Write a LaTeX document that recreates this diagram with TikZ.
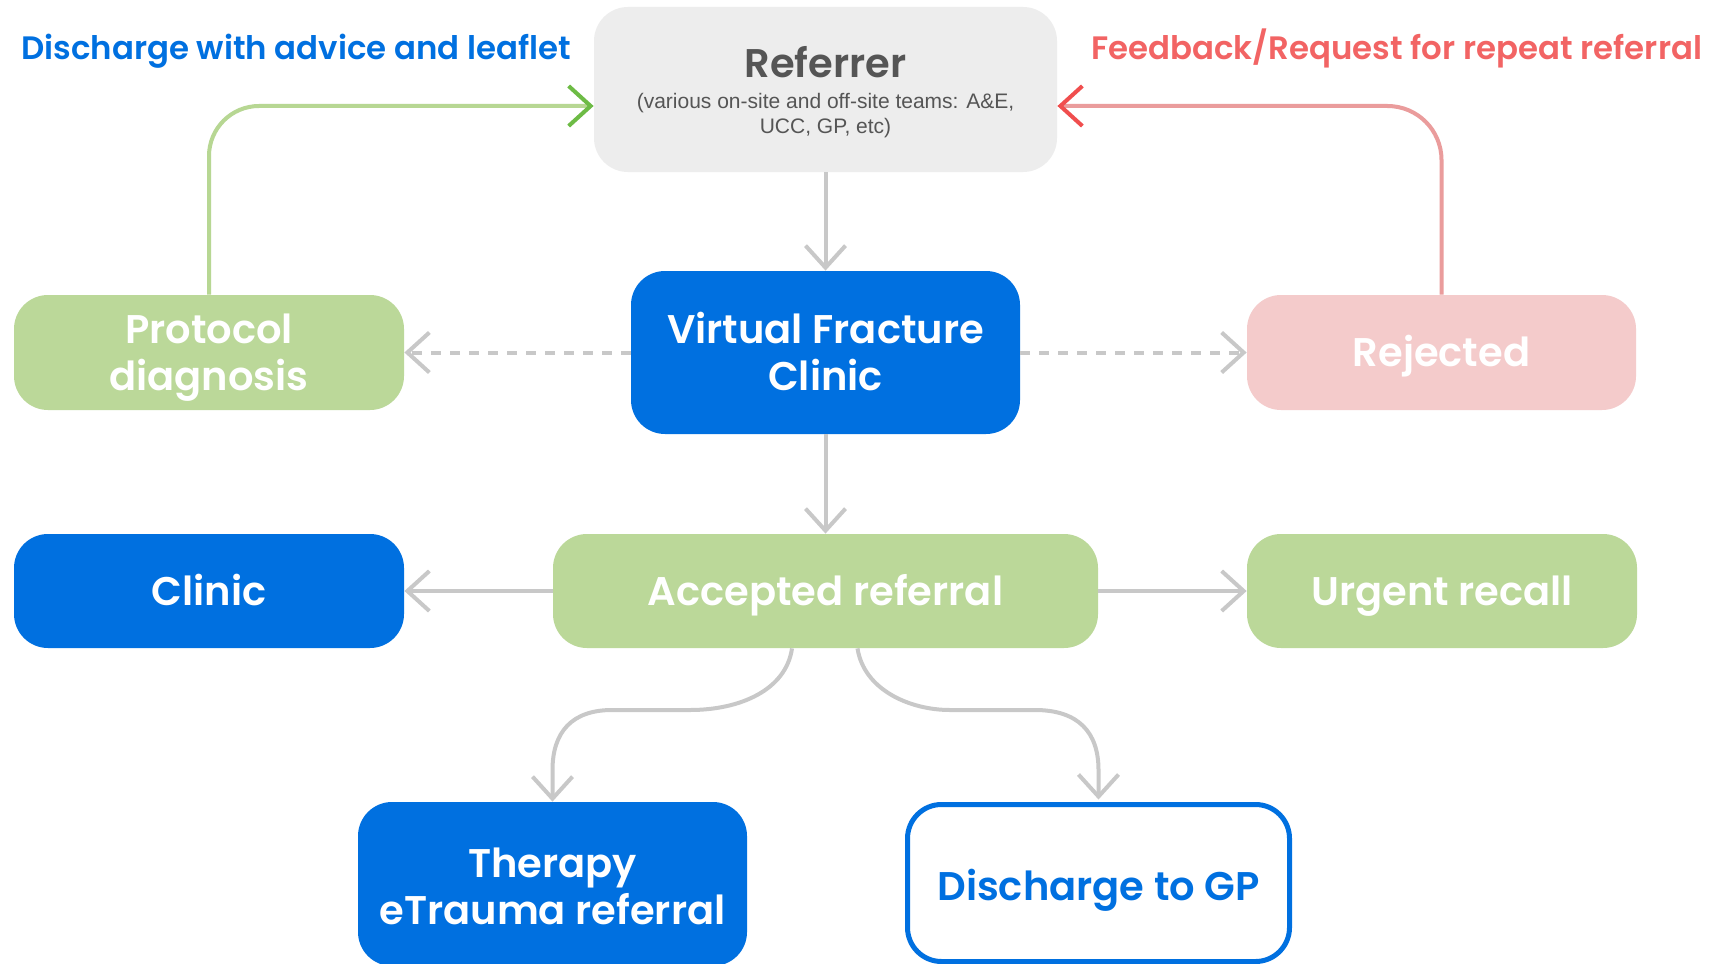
\documentclass[tikz,border=0pt]{standalone}
\usepackage{fontspec}
\setmainfont{Poppins}[UprightFont=* Medium, BoldFont=* SemiBold]
\newfontfamily\subfont{Liberation Sans}
\usetikzlibrary{arrows.meta}
\definecolor{vblue}{HTML}{0070E0}
\definecolor{vgreen}{HTML}{BBD899}
\definecolor{vpink}{HTML}{F4CBCB}
\definecolor{vgrayfill}{HTML}{EDEDED}
\definecolor{vgraytext}{HTML}{555555}
\definecolor{vline}{HTML}{C8C8C8}
\definecolor{gline}{HTML}{B7D793}
\definecolor{gtip}{HTML}{6DBB45}
\definecolor{rline}{HTML}{EA9C9C}
\definecolor{rtip}{HTML}{F04E4E}
\definecolor{rlabel}{HTML}{F26464}
\newcommand\capline[2][14pt]{\rule{0pt}{#1}\smash{#2}}
\begin{document}
\begin{tikzpicture}[x=0.5pt,y=-0.5pt,
  box/.style={rounded corners=17pt, inner sep=0pt, align=center,
    font=\bfseries\fontsize{20}{23.5}\selectfont, text=white},
  conn/.style={draw=vline, line width=2pt, -{Straight Barb[length=11pt,width=20pt]}},
  lbl/.style={inner sep=0pt, font=\bfseries\fontsize{16.2}{20}\selectfont},
]
\fill[white] (0,0) rectangle (1711,963);
\useasboundingbox (0,0) rectangle (1711,963);

% boxes
\node[box, fill=vgrayfill, minimum width=231.5pt, minimum height=82.5pt] (ref) at (825.5,89.5) {};
\node[inner sep=0pt, anchor=base, text=vgraytext, font=\bfseries\fontsize{20}{23}\selectfont] (reftitle) at (825.5,78) {Referrer};
\node[inner sep=0pt, align=center, text=vgraytext, font=\subfont\fontsize{10.5}{12.5}\selectfont] (refsub) at (825.5,116) {(various on-site and off-site teams: A\&E,\\UCC, GP, etc)};

\node[box, fill=vgreen, minimum width=195pt, minimum height=57.5pt] (proto) at (209,352.5) {\capline{Protocol}\\\smash{diagnosis}};
\node[box, fill=vblue, minimum width=194.5pt, minimum height=81.5pt] (vfc) at (825.5,352.5) {\capline{Virtual Fracture}\\\smash{Clinic}};
\node[box, fill=vpink, minimum width=194.5pt, minimum height=57.5pt] (rej) at (1441.5,352.5) {\capline{Rejected}};

\node[box, fill=vblue, minimum width=195pt, minimum height=57pt] (clinic) at (209,591) {\capline{Clinic}};
\node[box, fill=vgreen, minimum width=272.5pt, minimum height=57pt] (acc) at (825.5,591) {\capline{Accepted referral}};
\node[box, fill=vgreen, minimum width=195pt, minimum height=57pt] (urg) at (1442,591) {\capline{Urgent recall}};

\node[box, fill=vblue, minimum width=194.5pt, minimum height=82pt] (ther) at (552.5,884) {\capline[16.5pt]{Therapy}\\\smash{eTrauma referral}};
\node[box, draw=vblue, line width=2.5pt, fill=white, text=vblue, minimum width=191pt, minimum height=78.5pt] (dgp) at (1098.5,883) {\capline[17pt]{Discharge to GP}};

% labels
\node[lbl, anchor=base west, text=vblue] (lblgreen) at (21,60) {Discharge with advice and leaflet};
\node[lbl, anchor=base west, text=rlabel] (lblred) at (1091,60) {Feedback/Request for repeat referral};

% connectors
\draw[conn] (ref.south) -- (vfc.north);
\draw[conn] (vfc.south) -- (acc.north);
\draw[conn, dash pattern=on 5pt off 4.5pt] (vfc.west) -- (proto.east);
\draw[conn, dash pattern=on 5pt off 4.5pt] (vfc.east) -- (rej.west);
\draw[conn] (acc.west) -- (clinic.east);
\draw[conn] (acc.east) -- (urg.west);
\draw[draw=gline, line width=2pt, rounded corners=25pt, -{Straight Barb[length=11pt,width=20pt,color=gtip]}]
  (proto.north) |- ([yshift=-8.25pt]ref.west);
\draw[draw=rline, line width=2pt, rounded corners=27pt, -{Straight Barb[length=11pt,width=20pt,color=rtip]}]
  (rej.north) |- ([yshift=-8.25pt]ref.east);
\draw[conn] ([xshift=-16.75pt]acc.south) .. controls (786,690) and (740,710) .. (690,710)
  -- (612,710) .. controls (572,710) and (552.5,732) .. (552.5,770) -- (ther.north);
\draw[conn] ([xshift=16pt]acc.south) .. controls (864,690) and (910,710) .. (950,710)
  -- (1035,710) .. controls (1078,710) and (1098.5,732) .. (1098.5,770) -- ([yshift=1.25pt]dgp.north);
\end{tikzpicture}
\end{document}
